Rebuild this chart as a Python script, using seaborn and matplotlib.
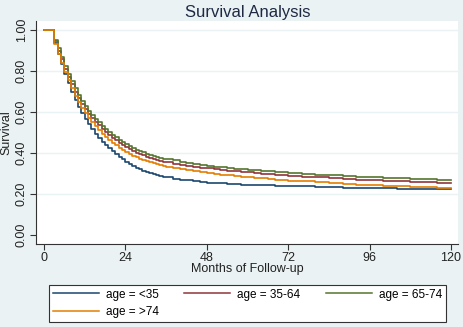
import numpy as np
import pandas as pd
import matplotlib
matplotlib.use('Agg')
import matplotlib.pyplot as plt
from matplotlib.lines import Line2D
import seaborn as sns

# 그림에서 읽어낸 생존곡선 값 (개월, 생존율)
months = [0, 3, 4, 5, 6, 7, 8, 9, 10, 11, 12, 13, 14, 15, 16, 17, 18, 19, 20, 21, 22, 23, 24,
          25, 26, 27, 28, 29, 30, 31, 32, 33, 34, 35, 36,
          38, 40, 42, 44, 46, 48, 50, 52, 54, 56, 58, 60, 62, 64, 66, 68, 70, 72,
          76, 80, 84, 88, 92, 96, 100, 104, 108, 112, 116, 120]

surv_lt35 = [1.0, 0.935, 0.885, 0.835, 0.785, 0.74, 0.70, 0.66, 0.625, 0.595, 0.565, 0.54, 0.515,
             0.495, 0.475, 0.455, 0.44, 0.425, 0.41, 0.395, 0.382, 0.37, 0.358,
             0.347, 0.337, 0.328, 0.32, 0.313, 0.307, 0.302, 0.297, 0.292, 0.288, 0.284, 0.281,
             0.275, 0.27, 0.266, 0.262, 0.259, 0.256, 0.254, 0.252, 0.25, 0.248, 0.246, 0.245,
             0.244, 0.243, 0.242, 0.241, 0.24, 0.239,
             0.237, 0.235, 0.233, 0.231, 0.229, 0.228, 0.227, 0.226, 0.225, 0.224, 0.224, 0.223]
surv_35_64 = [1.0, 0.945, 0.90, 0.86, 0.81, 0.77, 0.735, 0.70, 0.67, 0.64, 0.615, 0.592, 0.572,
              0.553, 0.535, 0.518, 0.503, 0.488, 0.474, 0.461, 0.449, 0.438, 0.428,
              0.419, 0.41, 0.402, 0.395, 0.388, 0.382, 0.376, 0.371, 0.366, 0.362, 0.358, 0.355,
              0.348, 0.343, 0.338, 0.333, 0.329, 0.325, 0.321, 0.317, 0.314, 0.311, 0.308, 0.305,
              0.302, 0.299, 0.296, 0.294, 0.291, 0.289,
              0.285, 0.281, 0.277, 0.274, 0.27, 0.267, 0.264, 0.262, 0.259, 0.257, 0.255, 0.253]
surv_65_74 = [1.0, 0.95, 0.91, 0.87, 0.825, 0.785, 0.75, 0.715, 0.685, 0.655, 0.63, 0.607, 0.587,
              0.568, 0.55, 0.533, 0.518, 0.503, 0.489, 0.476, 0.464, 0.453, 0.443,
              0.434, 0.425, 0.417, 0.41, 0.403, 0.397, 0.391, 0.386, 0.381, 0.377, 0.373, 0.37,
              0.364, 0.358, 0.352, 0.347, 0.342, 0.338, 0.334, 0.33, 0.327, 0.324, 0.321, 0.318,
              0.315, 0.313, 0.31, 0.308, 0.305, 0.303,
              0.299, 0.295, 0.291, 0.288, 0.284, 0.281, 0.278, 0.276, 0.273, 0.271, 0.269, 0.267]
surv_gt74 = [1.0, 0.93, 0.885, 0.84, 0.795, 0.755, 0.715, 0.68, 0.65, 0.62, 0.595, 0.572, 0.551,
             0.531, 0.512, 0.495, 0.479, 0.464, 0.45, 0.437, 0.425, 0.414, 0.404,
             0.395, 0.387, 0.379, 0.372, 0.366, 0.36, 0.355, 0.35, 0.345, 0.341, 0.337, 0.333,
             0.327, 0.321, 0.315, 0.311, 0.306, 0.302, 0.298, 0.294, 0.291, 0.288, 0.285, 0.282,
             0.279, 0.276, 0.273, 0.27, 0.268, 0.265,
             0.261, 0.257, 0.253, 0.25, 0.246, 0.243, 0.24, 0.237, 0.234, 0.232, 0.23, 0.228]

groups = ['age = <35', 'age = 35-64', 'age = 65-74', 'age = >74']
colors = ['#1A476F', '#90353B', '#55752F', '#E37E00']

frames = []
for g, s in zip(groups, [surv_lt35, surv_35_64, surv_65_74, surv_gt74]):
    frames.append(pd.DataFrame({'month': months, 'surv': s, 'group': g}))
df = pd.concat(frames, ignore_index=True)

plt.rcParams['font.family'] = ['Liberation Sans', 'DejaVu Sans']

bg = '#EAF2F3'
fig = plt.figure(figsize=(4.64, 3.27), dpi=100, facecolor=bg)
ax = fig.add_axes([36/464, 1 - 244/327, (458 - 36)/464, (244 - 21)/327])
ax.set_facecolor('white')

sns.lineplot(data=df, x='month', y='surv', hue='group', hue_order=groups,
             palette=colors, estimator=None, drawstyle='steps-post', linewidth=1.2,
             ax=ax, legend=False)

ax.set_xlim(-2.36, 122.05)
ax.set_ylim(-0.044, 1.044)
ax.set_xticks([0, 24, 48, 72, 96, 120])
ax.set_yticks([0, 0.2, 0.4, 0.6, 0.8, 1.0])
ax.set_yticklabels(['0.00', '0.20', '0.40', '0.60', '0.80', '1.00'], rotation=90, va='center')
for yv in [0.2, 0.4, 0.6, 0.8, 1.0]:
    ax.axhline(yv, color=bg, linewidth=1.0, zorder=0)

for side in ['top', 'right']:
    ax.spines[side].set_visible(False)
for side in ['left', 'bottom']:
    ax.spines[side].set_color('#333333')
    ax.spines[side].set_linewidth(0.8)
ax.tick_params(axis='both', direction='out', length=4, width=0.8, color='#333333',
               labelsize=9, labelcolor='#222222', pad=2)

ax.set_xlabel('Months of Follow-up', fontsize=9, color='#222222', labelpad=-1)
ax.set_ylabel('Survival', fontsize=9, color='#222222', labelpad=2)
fig.text(248/464, 1 - 12/327, 'Survival Analysis', ha='center', va='center',
         fontsize=12, color='#1E2A44')

# 범례: 3열, 행 우선 배치
handles = [Line2D([], [], color=c, linewidth=1.1) for c in colors]
order = [0, 3, 1, 2]
leg = fig.legend([handles[i] for i in order], [groups[i] for i in order],
                 ncol=3, loc='lower left', mode='expand',
                 bbox_to_anchor=(49/464, 1 - 322/327, 397/464, 40/327),
                 fontsize=8.5, handlelength=3.9, handletextpad=0.6,
                 labelspacing=0.5, borderpad=0.3, borderaxespad=0.0,
                 fancybox=False, framealpha=1)
leg.get_frame().set_edgecolor('#333333')
leg.get_frame().set_linewidth(0.8)

fig.savefig('out.png', dpi=100, facecolor=bg)
